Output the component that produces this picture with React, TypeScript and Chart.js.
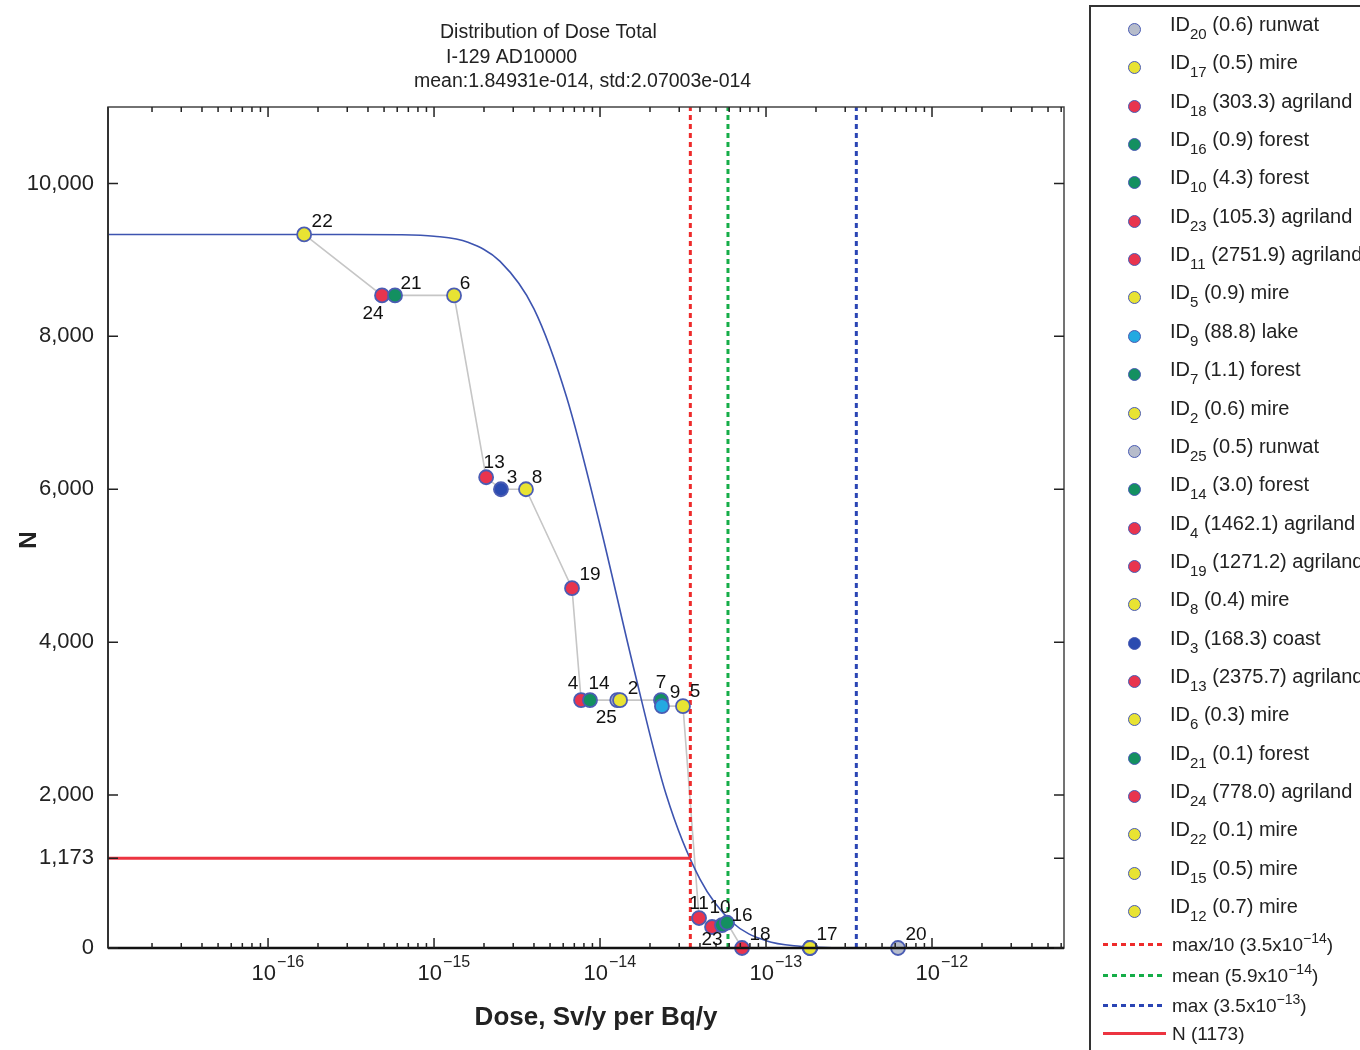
import React, { useEffect, useRef } from 'react';
import { Chart, registerables } from 'chart.js';
Chart.register(...registerables);

// ---- data ----
const pointIds = [22, 24, 21, 6, 13, 3, 8, 19, 4, 14, 25, 2, 7, 9, 5, 11, 23, 10, 16, 18, 15, 12, 17, 20];
const pointDose = [1.65e-16, 4.86e-16, 5.82e-16, 1.32e-15, 2.06e-15, 2.53e-15, 3.58e-15, 6.78e-15, 7.69e-15, 8.7e-15, 1.27e-14, 1.32e-14, 2.33e-14, 2.36e-14, 3.16e-14, 3.95e-14, 4.73e-14, 5.43e-14, 5.82e-14, 7.17e-14, 1.84e-13, 1.84e-13, 1.84e-13, 6.24e-13];
const pointN = [9333, 8536, 8536, 8536, 6157, 6000, 6000, 4706, 3242, 3242, 3242, 3242, 3242, 3163, 3163, 392, 275, 300, 330, 0, 0, 0, 0, 0];
const pointLand = ['mire', 'agriland', 'forest', 'mire', 'agriland', 'coast', 'mire', 'agriland', 'agriland', 'forest', 'runwat', 'mire', 'forest', 'lake', 'mire', 'agriland', 'agriland', 'forest', 'forest', 'agriland', 'mire', 'mire', 'mire', 'runwat'];

const curveDose = [1e-17, 1e-16, 3.2e-16, 6.3e-16, 1.0e-15, 1.6e-15, 2.5e-15, 4.0e-15, 6.3e-15, 1.0e-14, 1.6e-14, 2.5e-14, 4.0e-14, 6.3e-14, 1.0e-13, 1.6e-13, 2.5e-13, 4.0e-13, 7e-12];
const curveN = [9333, 9333, 9333, 9330, 9310, 9230, 8980, 8360, 7200, 5530, 3650, 2010, 900, 330, 95, 22, 4, 0, 0];

const legendIds = [20, 17, 18, 16, 10, 23, 11, 5, 9, 7, 2, 25, 14, 4, 19, 8, 3, 13, 6, 21, 24, 22, 15, 12];
const legendValues = ['0.6', '0.5', '303.3', '0.9', '4.3', '105.3', '2751.9', '0.9', '88.8', '1.1', '0.6', '0.5', '3.0', '1462.1', '1271.2', '0.4', '168.3', '2375.7', '0.3', '0.1', '778.0', '0.1', '0.5', '0.7'];
const legendLand = ['runwat', 'mire', 'agriland', 'forest', 'forest', 'agriland', 'agriland', 'mire', 'lake', 'forest', 'mire', 'runwat', 'forest', 'agriland', 'agriland', 'mire', 'coast', 'agriland', 'mire', 'forest', 'agriland', 'mire', 'mire', 'mire'];

const maxTenthDose = 3.5e-14;
const meanDose = 5.9e-14;
const maxDose = 3.5e-13;
const nAtMaxTenth = 1173;
const yTicks = [0, 1173, 2000, 4000, 6000, 8000, 10000];
const xMin = 1.086e-17;
const xMax = 6.24e-12;
const yMax = 11000;

const titleLines = ['Distribution of Dose Total', 'I-129 AD10000', 'mean:1.84931e-014, std:2.07003e-014'];

// ---- styles ----
const landColor: Record<string, string> = {
  runwat: '#b6bccb',
  mire: '#e8e333',
  agriland: '#e8344e',
  forest: '#139060',
  lake: '#23a9e1',
  coast: '#2b4bb0',
};
const labelOffsets: Record<number, [number, number]> = {
  22: [18, -13], 24: [-9, 18], 21: [16, -12], 6: [11, -12], 13: [8, -15], 3: [11, -12], 8: [11, -12],
  19: [18, -13], 4: [-8, -16], 14: [9, -16], 25: [-11, 18], 2: [13, -11], 7: [0, -17], 9: [13, -13],
  5: [12, -14], 11: [0, -14], 23: [0, 13], 10: [-2, -17], 16: [15, -7], 18: [18, -13], 17: [17, -13], 20: [18, -13],
};
const FONT = '"Liberation Sans", Arial, Helvetica, sans-serif';
const RED = '#ee2b2b';
const GREEN = '#15ad48';
const BLUE = '#2a44b4';

const decorPlugin = {
  id: 'decor',
  afterDraw(chart: any) {
    const { ctx, chartArea: a, scales } = chart;
    const x = scales.x;
    const y = scales.y;
    ctx.save();
    // frame
    ctx.strokeStyle = '#444';
    ctx.lineWidth = 1.5;
    ctx.strokeRect(a.left, a.top, a.right - a.left, a.bottom - a.top);
    ctx.strokeStyle = '#111';
    ctx.lineWidth = 2.5;
    ctx.beginPath();
    ctx.moveTo(a.left, a.bottom);
    ctx.lineTo(a.right, a.bottom);
    ctx.stroke();
    ctx.lineWidth = 2;
    ctx.strokeStyle = '#333';
    ctx.beginPath();
    ctx.moveTo(a.left, a.top);
    ctx.lineTo(a.left, a.bottom);
    ctx.stroke();
    // x ticks (log)
    ctx.lineWidth = 1.5;
    ctx.strokeStyle = '#222';
    for (let d = -17; d <= -12; d++) {
      for (let m = 1; m <= 9; m++) {
        const v = m * Math.pow(10, d);
        if (v < xMin || v > xMax) continue;
        const px = x.getPixelForValue(v);
        const len = m === 1 ? 10 : 5;
        ctx.beginPath();
        ctx.moveTo(px, a.bottom);
        ctx.lineTo(px, a.bottom - len);
        ctx.moveTo(px, a.top);
        ctx.lineTo(px, a.top + len);
        ctx.stroke();
      }
    }
    // y ticks
    for (const v of yTicks) {
      const py = y.getPixelForValue(v);
      ctx.beginPath();
      ctx.moveTo(a.left, py);
      ctx.lineTo(a.left + 10, py);
      ctx.moveTo(a.right, py);
      ctx.lineTo(a.right - 10, py);
      ctx.stroke();
    }
    // x tick labels 10^d
    ctx.fillStyle = '#222';
    ctx.textBaseline = 'middle';
    for (let d = -16; d <= -12; d++) {
      const px = x.getPixelForValue(Math.pow(10, d));
      ctx.font = `22px ${FONT}`;
      ctx.textAlign = 'right';
      ctx.fillText('10', px + 8, a.bottom + 26);
      ctx.font = `16px ${FONT}`;
      ctx.textAlign = 'left';
      ctx.fillText('\u2212' + String(-d), px + 9, a.bottom + 15);
    }
    // axis titles
    ctx.font = `bold 26px ${FONT}`;
    ctx.textAlign = 'center';
    ctx.fillText('Dose, Sv/y per Bq/y', 596, 1018);
    ctx.save();
    ctx.translate(29, 540);
    ctx.rotate(-Math.PI / 2);
    ctx.font = `bold 24px ${FONT}`;
    ctx.fillText('N', 0, 0);
    ctx.restore();
    // title
    ctx.font = `19.5px ${FONT}`;
    ctx.textAlign = 'left';
    ctx.fillText(titleLines[0], 440, 33);
    ctx.fillText(titleLines[1], 446, 58);
    ctx.fillText(titleLines[2], 414, 82);
    // point labels
    ctx.font = `19px ${FONT}`;
    ctx.textAlign = 'center';
    ctx.fillStyle = '#111';
    pointIds.forEach((id, i) => {
      const off = labelOffsets[id];
      if (!off) return;
      const px = x.getPixelForValue(pointDose[i]);
      const py = y.getPixelForValue(pointN[i]);
      ctx.fillText(String(id), px + off[0], py + off[1]);
    });
    ctx.restore();
  },
};

function ChartCanvas() {
  const ref = useRef<HTMLCanvasElement | null>(null);
  useEffect(() => {
    if (!ref.current) return;
    const vline = (v: number, color: string) => ({
      data: [{ x: v, y: 0 }, { x: v, y: yMax }],
      showLine: true,
      borderColor: color,
      borderWidth: 3,
      borderDash: [5, 4],
      pointRadius: 0,
      order: 1,
    });
    const chart = new Chart(ref.current, {
      type: 'scatter',
      data: {
        datasets: [
          {
            data: pointIds.map((_, i) => ({ x: pointDose[i], y: pointN[i] })),
            backgroundColor: pointLand.map((l) => landColor[l]),
            borderColor: '#4a5cb3',
            borderWidth: 1.8,
            pointRadius: 7,
            clip: false,
            order: 0,
          } as any,
          vline(maxTenthDose, RED),
          vline(meanDose, GREEN),
          vline(maxDose, BLUE),
          {
            data: [{ x: xMin, y: nAtMaxTenth }, { x: maxTenthDose, y: nAtMaxTenth }],
            showLine: true,
            borderColor: '#ec3440',
            borderWidth: 3,
            pointRadius: 0,
            order: 2,
          },
          {
            data: curveDose.map((d, i) => ({ x: d, y: curveN[i] })),
            showLine: true,
            borderColor: '#3d54b0',
            borderWidth: 1.6,
            pointRadius: 0,
            cubicInterpolationMode: 'monotone',
            order: 3,
          } as any,
          {
            data: pointIds.map((_, i) => ({ x: pointDose[i], y: pointN[i] })),
            showLine: true,
            borderColor: '#c6c6c6',
            borderWidth: 1.6,
            pointRadius: 0,
            order: 4,
          },
        ],
      },
      options: {
        animation: false,
        responsive: false,
        events: [],
        layout: { padding: { top: 107, right: 26, left: 8, bottom: 0 } },
        plugins: { legend: { display: false }, tooltip: { enabled: false }, title: { display: false } },
        scales: {
          x: {
            type: 'logarithmic',
            min: xMin,
            max: xMax,
            grid: { display: false },
            border: { display: false },
            ticks: { display: false },
            afterFit: (s: any) => { s.height = 102; },
          },
          y: {
            type: 'linear',
            min: 0,
            max: yMax,
            grid: { display: false },
            border: { display: false },
            afterBuildTicks: (s: any) => { s.ticks = yTicks.map((v) => ({ value: v })); },
            ticks: {
              padding: 6,
              color: '#222',
              font: { size: 22, family: FONT },
              callback: (v: any) => Number(v).toLocaleString('en-US'),
            },
            afterFit: (s: any) => { s.width = 100; },
          },
        },
      } as any,
      plugins: [decorPlugin],
    });
    return () => chart.destroy();
  }, []);
  return <canvas ref={ref} width={1090} height={1050} style={{ position: 'absolute', left: 0, top: 0, width: 1090, height: 1050 }} />;
}

function Legend() {
  const rowH = 38.35;
  return (
    <div style={{ position: 'absolute', left: 1089, top: 5, width: 320, height: 1100, border: '2px solid #333', boxSizing: 'border-box', fontFamily: FONT, color: '#222' }}>
      {legendIds.map((id, i) => (
        <div key={id} style={{ position: 'absolute', left: 0, top: 13 + i * rowH, height: 20, width: 320 }}>
          <div style={{ position: 'absolute', left: 37, top: 3, width: 13, height: 13, borderRadius: '50%', background: landColor[legendLand[i]], border: '1.5px solid #4a5cb3', boxSizing: 'border-box' }} />
          <div style={{ position: 'absolute', left: 79, top: -8, whiteSpace: 'nowrap', fontSize: 20, lineHeight: '24px' }}>
            ID<span style={{ fontSize: 15, position: 'relative', top: 8 }}>{id}</span>{' '}({legendValues[i]}) {legendLand[i]}
          </div>
        </div>
      ))}
      {[
        { c: RED, t: 'max/10 (3.5x10', e: '\u221214', dash: true },
        { c: GREEN, t: 'mean (5.9x10', e: '\u221214', dash: true },
        { c: BLUE, t: 'max (3.5x10', e: '\u221213', dash: true },
        { c: '#ec3440', t: 'N (1173)', e: '', dash: false },
      ].map((r, i) => (
        <div key={i} style={{ position: 'absolute', left: 0, top: [933, 964, 994, 1022][i] - 5, height: 20, width: 320 }}>
          <div style={{ position: 'absolute', left: 12, top: 8, width: 63, height: 3, background: r.dash ? `repeating-linear-gradient(to right, ${r.c} 0px, ${r.c} 5px, transparent 5px, transparent 9px)` : r.c }} />
          <div style={{ position: 'absolute', left: 81, top: -2, whiteSpace: 'nowrap', fontSize: 19, lineHeight: '24px' }}>
            {r.t}
            {r.e ? <span style={{ fontSize: 14, position: 'relative', top: -8 }}>{r.e}</span> : null}
            {r.e ? ')' : ''}
          </div>
        </div>
      ))}
    </div>
  );
}

export default function App() {
  return (
    <div style={{ position: 'absolute', left: 0, top: 0, width: 1360, height: 1050, overflow: 'hidden', background: '#fff' }}>
      <ChartCanvas />
      <Legend />
    </div>
  );
}
